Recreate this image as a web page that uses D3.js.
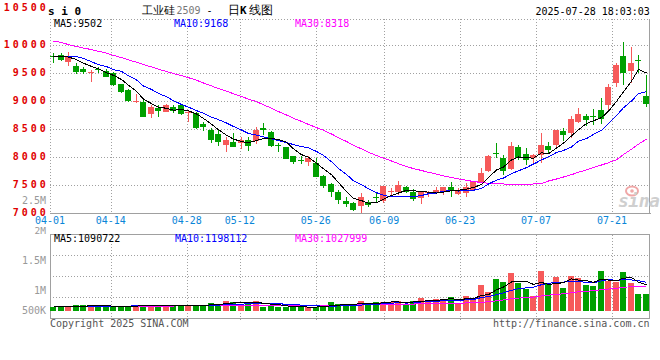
<!DOCTYPE html>
<html><head><meta charset="utf-8">
<script src="https://cdn.jsdelivr.net/npm/d3@7"></script>
<style>
html,body{margin:0;padding:0;background:#fff;}
svg{display:block;}
text{font-family:"DejaVu Sans Mono",monospace;}
</style></head><body>
<svg id="c" width="660" height="360"></svg>
<script>
const dates = ["04-01","04-02","04-03","04-07","04-08","04-09","04-10","04-11","04-14","04-15","04-16","04-17","04-18","04-21","04-22","04-23","04-24","04-25","04-28","04-29","04-30",
"05-06","05-07","05-08","05-09","05-12","05-13","05-14","05-15","05-16","05-19","05-20","05-21","05-22","05-23","05-26","05-27","05-28","05-29","05-30",
"06-03","06-04","06-05","06-06","06-09","06-10","06-11","06-12","06-13","06-16","06-17","06-18","06-19","06-20","06-23","06-24","06-25","06-26","06-27","06-30",
"07-01","07-02","07-03","07-04","07-07","07-08","07-09","07-10","07-11","07-14","07-15","07-16","07-17","07-18","07-21","07-22","07-23","07-24","07-25","07-28"];
const tickDates = ["04-01","04-14","04-28","05-12","05-26","06-09","06-23","07-07","07-21"];

const opens = [9800,9830,9700,9625,9570,9500,9565,9535,9505,9300,9195,8985,8990,8770,8870,8810,8895,8930,8785,8790,
8590,8480,8410,8215,8275,8255,8300,8290,8510,8450,8210,8175,8015,7950,7900,7900,7660,7515,7380,7215,
7185,7115,7195,7285,7205,7375,7370,7470,7370,7265,7365,7365,7365,7460,7340,7365,7425,7560,7750,8070,
7975,7780,8185,8055,7975,8035,8195,8215,8465,8435,8630,8735,8735,8840,8930,9330,9805,9545,9725,9095];
const highs = [9860,9865,9870,9675,9615,9555,9612,9565,9525,9310,9215,9120,9020,8930,8930,8940,8925,8935,8830,8810,
8630,8525,8480,8365,8435,8350,8365,8530,8600,8470,8255,8185,8020,8020,8020,7975,7680,7530,7410,7280,
7195,7350,7230,7350,7485,7455,7570,7490,7430,7380,7395,7470,7470,7550,7440,7530,7580,7800,8035,8255,
8035,8275,8215,8155,8055,8435,8275,8485,8525,8735,8875,8770,8850,9050,9305,9685,10060,9970,9820,9465];
const lows = [9680,9720,9625,9480,9485,9345,9505,9422,9270,9140,8975,8960,8710,8700,8720,8800,8790,8750,8630,8505,
8465,8245,8195,8085,8170,8140,8105,8230,8395,8170,8095,7958,7875,7875,7840,7635,7440,7280,7160,7100,
7040,7005,7115,7175,7175,7290,7320,7365,7220,7160,7280,7360,7320,7290,7320,7290,7410,7540,7740,7975,
7680,7765,7945,7860,7890,7890,8055,8175,8285,8335,8600,8555,8570,8590,8825,9255,9285,9330,9495,8895];
const closes = [9790,9745,9805,9512,9518,9510,9540,9435,9285,9150,9005,8995,8720,8900,8810,8930,8820,8770,8795,8530,
8530,8305,8275,8305,8185,8305,8200,8480,8470,8200,8200,7965,7900,7945,7975,7650,7490,7365,7245,7160,
7055,7280,7140,7280,7480,7385,7500,7380,7250,7370,7372,7410,7460,7380,7410,7470,7560,7720,8025,8060,
7740,8195,7980,7950,8035,8215,8115,8480,8395,8680,8770,8660,8730,8675,9255,9645,9505,9685,9720,8955];

const ma5 = [9800,9795,9785,9740,9674,9618,9577,9503,9458,9384,9283,9174,9031,8954,8886,8871,8836,8846,8825,8769,
8689,8586,8487,8389,8320,8275,8254,8295,8328,8331,8310,8263,8147,8042,7997,7887,7792,7685,7545,7382,
7263,7221,7176,7183,7247,7313,7357,7405,7399,7377,7374,7356,7372,7398,7406,7426,7456,7508,7637,7767,
7821,7948,8000,7985,7980,8075,8059,8159,8248,8377,8488,8597,8647,8703,8818,8993,9162,9353,9562,9502];
const ma10 = [9802,9798,9794,9790,9762,9700,9650,9615,9560,9529,9451,9376,9267,9206,9135,9077,9005,8939,8890,8828,
8780,8711,8667,8607,8545,8482,8420,8391,8359,8326,8293,8259,8221,8185,8164,8099,8028,7916,7794,7690,
7575,7507,7431,7364,7315,7288,7289,7291,7291,7312,7344,7357,7389,7399,7392,7400,7406,7440,7518,7587,
7624,7702,7754,7811,7874,7948,8004,8080,8117,8179,8282,8328,8403,8476,8598,8741,8880,9000,9133,9168];
const ma30 = [10070,10045,10007,9973,9946,9918,9888,9855,9814,9775,9734,9693,9650,9609,9568,9527,9491,9454,9416,9371,
9321,9270,9221,9175,9129,9080,9034,8989,8932,8871,8811,8750,8691,8636,8582,8525,8477,8411,8345,8277,
8209,8145,8082,8027,7977,7929,7880,7830,7793,7759,7727,7696,7664,7634,7607,7584,7562,7545,7530,7527,
7518,7513,7507,7511,7518,7525,7571,7607,7643,7684,7727,7771,7812,7857,7898,7952,8045,8140,8230,8318];

const volumes = [142000,142000,198000,240000,240000,198000,198000,142000,198000,198000,198000,240000,198000,198000,240000,198000,198000,240000,198000,240000,
240000,325000,282000,423000,367000,240000,367000,423000,142000,198000,142000,142000,198000,142000,142000,142000,240000,381000,282000,240000,
198000,423000,282000,381000,381000,367000,423000,240000,423000,549000,451000,493000,451000,591000,339000,634000,549000,1083000,802000,1336000,
1224000,1603000,1154000,901000,634000,1673000,1154000,1434000,971000,1477000,1392000,1083000,1041000,1673000,1266000,1224000,1645000,1182000,704000,704000];
const volMa5 = [180000,180000,185000,190000,192000,204000,215000,204000,195000,187000,187000,195000,206000,206000,215000,215000,206000,215000,215000,215000,
223000,249000,257000,302000,327000,327000,336000,364000,308000,274000,254000,209000,164000,164000,153000,153000,173000,209000,237000,257000,
268000,305000,285000,305000,333000,367000,367000,358000,367000,400000,417000,431000,473000,507000,465000,502000,513000,639000,681000,881000,
999000,1210000,1224000,1244000,1103000,1193000,1103000,1159000,1173000,1342000,1286000,1271000,1193000,1333000,1291000,1257000,1370000,1398000,1204000,1090722];
const volMa10 = [185000,185000,186000,188000,190000,192000,195000,195000,195000,190000,195000,205000,205000,201000,201000,201000,201000,211000,211000,215000,
219000,228000,236000,258000,271000,275000,292000,311000,305000,301000,291000,273000,264000,236000,214000,204000,191000,187000,201000,205000,
211000,239000,247000,271000,295000,318000,336000,322000,336000,367000,392000,399000,416000,437000,433000,459000,472000,556000,594000,673000,
750000,861000,932000,963000,992000,1096000,1156000,1192000,1208000,1223000,1239000,1187000,1176000,1253000,1316000,1272000,1321000,1295000,1269000,1198112];
const volMa30 = [175000,175000,176000,177000,178000,180000,181000,182000,183000,185000,186000,188000,190000,192000,194000,196000,198000,200000,202000,205000,
208000,211000,214000,217000,220000,223000,226000,229000,232000,235000,235000,235000,235000,232000,229000,227000,228000,236000,239000,240000,
240000,246000,249000,255000,260000,266000,273000,273000,281000,291000,298000,303000,309000,315000,314000,327000,333000,355000,377000,415000,
451000,500000,532000,557000,573000,624000,655000,690000,713000,754000,794000,816000,841000,884000,914000,942000,983000,1014000,1024000,1027999];

const priceTicks = [10500,10000,9500,9000,8500,8000,7500,7000];
const volTickValues = [500000,1000000,1500000,2000000,2500000];
const volTickLabels = ["500K","1M","1.5M","2M","2.5M"];

const svg = d3.select("#c");
const n = dates.length;
const L = 50, R = 649.5;
const RED = "#f65a5a", GREEN = "#00a000", GRID = "#a0a0a0";

const xb = d3.scaleBand().domain(d3.range(n)).range([50, 650]);
const xt = d3.scalePoint().domain(dates).range([50, 650]);
const y = d3.scaleLinear().domain([7000, 10000]).range([213, 45]);
const yv = d3.scaleLinear().domain([0, 3220000]).range([310.7, 234.3]);
const yvLabel = d3.scaleLinear().domain(volTickValues).range([313.6, 293.9, 264.1, 234.3, 204.4]);
const mainTop = 19, mainBot = 213.5, volTop = 234.5, volBot = 318.5;

const left = i => Math.round(xb(i));
const cxp = i => left(i) + 3;

const g = svg.append("g");
g.selectAll(".hg").data(priceTicks.filter(v => v > 7000 && y(v) > mainTop)).enter().append("line")
  .attr("x1", L).attr("x2", R).attr("y1", d => Math.round(y(d)) + 0.5).attr("y2", d => Math.round(y(d)) + 0.5)
  .attr("stroke", GRID).attr("stroke-dasharray", "1,2").attr("shape-rendering", "crispEdges");
const tickX = d => Math.round(xt(d)) + 0.5;
g.selectAll(".vg").data(tickDates.slice(1)).enter().append("line")
  .attr("x1", tickX).attr("x2", tickX).attr("y1", mainTop).attr("y2", mainBot)
  .attr("stroke", GRID).attr("stroke-dasharray", "1,2").attr("shape-rendering", "crispEdges");
g.append("line").attr("x1", L).attr("x2", R).attr("y1", mainTop + 0.5).attr("y2", mainTop + 0.5)
  .attr("stroke", GRID).attr("stroke-dasharray", "1,2").attr("shape-rendering", "crispEdges");
g.append("line").attr("x1", L + 0.5).attr("x2", L + 0.5).attr("y1", mainTop).attr("y2", mainBot)
  .attr("stroke", GRID).attr("stroke-dasharray", "1,2").attr("shape-rendering", "crispEdges");
g.append("line").attr("x1", L).attr("x2", R + 1).attr("y1", mainBot).attr("y2", mainBot)
  .attr("stroke", GRID).attr("stroke-width", 1).attr("shape-rendering", "crispEdges");
g.append("line").attr("x1", R).attr("x2", R).attr("y1", mainTop).attr("y2", mainBot)
  .attr("stroke", GRID).attr("stroke-width", 1).attr("shape-rendering", "crispEdges");

const volRows = d3.range(1, 4).map(k => volTop + (volBot - volTop) * k / 4);
g.selectAll(".vhg").data(volRows).enter().append("line")
  .attr("x1", L).attr("x2", R).attr("y1", d => Math.round(d) - 0.5).attr("y2", d => Math.round(d) - 0.5)
  .attr("stroke", GRID).attr("stroke-dasharray", "1,2").attr("shape-rendering", "crispEdges");
g.selectAll(".vvg").data(tickDates.slice(1)).enter().append("line")
  .attr("x1", tickX).attr("x2", tickX).attr("y1", volTop).attr("y2", volBot + 2)
  .attr("stroke", GRID).attr("stroke-dasharray", "1,2").attr("shape-rendering", "crispEdges");
g.append("rect").attr("x", L + 0.5).attr("y", volTop).attr("width", R - L - 0.5).attr("height", volBot - volTop)
  .attr("fill", "none").attr("stroke", GRID).attr("shape-rendering", "crispEdges");

// watermark
const wm = svg.append("g");
wm.append("ellipse").attr("cx", 632).attr("cy", 191).attr("rx", 6).attr("ry", 4.5).attr("fill", "none").attr("stroke", "#f0a8a8").attr("stroke-width", 2);
wm.append("circle").attr("cx", 632).attr("cy", 191).attr("r", 1.8).attr("fill", "#f0a8a8");
wm.append("text").attr("x", 618).attr("y", 207).attr("font-family", "DejaVu Sans").attr("font-style", "italic")
  .attr("font-weight", "bold").attr("font-size", 18).attr("letter-spacing", -0.5).attr("fill", "#cfcfcf").text("sina");

const idx = d3.range(n);
const col = i => closes[i] >= opens[i] ? RED : GREEN;
const cg = svg.append("g").attr("shape-rendering", "crispEdges");
cg.selectAll(".wick").data(idx).enter().append("rect")
  .attr("x", cxp).attr("width", 1)
  .attr("y", i => Math.round(y(highs[i])))
  .attr("height", i => Math.max(1, Math.round(y(lows[i])) - Math.round(y(highs[i]))))
  .attr("fill", col);
cg.selectAll(".body").data(idx).enter().append("rect")
  .attr("x", left).attr("width", 6)
  .attr("y", i => Math.round(Math.min(y(opens[i]), y(closes[i]))))
  .attr("height", i => Math.max(1, Math.round(Math.abs(y(opens[i]) - y(closes[i])))))
  .attr("fill", col);

const lineP = d3.line().x(i => cxp(i) + 0.5);
function maLine(arr, color, yy) {
  svg.append("path").datum(idx)
    .attr("d", lineP.y(i => yy(arr[i]))(idx))
    .attr("fill", "none").attr("stroke", color).attr("stroke-width", 1).attr("shape-rendering", "crispEdges");
}
maLine(ma30, "#ff00ff", y);
maLine(ma10, "#0000ff", y);
maLine(ma5, "#000000", y);

const vg = svg.append("g").attr("shape-rendering", "crispEdges");
vg.selectAll(".vb").data(idx).enter().append("rect")
  .attr("x", left).attr("width", 6)
  .attr("y", i => Math.round(yv(volumes[i])))
  .attr("height", i => Math.round(yv(0)) - Math.round(yv(volumes[i])))
  .attr("fill", col);
maLine(volMa30, "#ff00ff", yv);
maLine(volMa10, "#0000ff", yv);
maLine(volMa5, "#000000", yv);

const txt = (x, yy, s, o = {}) => {
  const t = svg.append("text").attr("x", x).attr("y", yy).attr("font-size", o.size || 10)
    .attr("fill", o.fill || "#000").text(s);
  if (o.anchor) t.attr("text-anchor", o.anchor);
  if (o.weight) t.attr("font-weight", o.weight);
  if (o.ls) t.attr("letter-spacing", o.ls);
  if (o.family) t.attr("font-family", o.family);
  return t;
};
const topVisible = y.invert(mainTop);
priceTicks.forEach(v => {
  const cy = v > topVisible ? 7.5 : y(v) - 1;
  txt(48.8, cy + 3.7, String(v), {anchor: "end", fill: "#e00000", weight: "bold", ls: 3});
});
volTickValues.forEach((v, k) => {
  txt(46, yvLabel(v), volTickLabels[k], {anchor: "end", fill: "#999", size: k === 3 ? 9.5 : 10});
});
tickDates.forEach(d => {
  txt(xt(d), 224, d, {anchor: "middle", fill: "#0a86d8"});
});

txt(54, 27, "MA5:" + ma5[n - 1]);
txt(174, 27, "MA10:" + ma10[n - 1], {fill: "#0000ff"});
txt(295, 27, "MA30:" + ma30[n - 1], {fill: "#ff00ff"});
txt(54, 242, "MA5:" + volMa5[n - 1], {});
txt(175, 242, "MA10:" + volMa10[n - 1], {fill: "#0000ff"});
txt(295, 242, "MA30:" + volMa30[n - 1], {fill: "#ff00ff"});

txt(48, 15, "s i 0", {weight: "bold", size: 11});
txt(141.5, 13.5, "工业硅", {family: "Noto Sans CJK SC", size: 11});
txt(176.5, 13.5, "2509", {fill: "#777"});
txt(206.5, 13.5, "-", {size: 10});
txt(227.5, 13.5, "日", {family: "Noto Sans CJK SC", size: 11.5});
txt(240, 13.5, "K", {family: "DejaVu Sans", weight: "bold", size: 11});
txt(249, 13.5, "线图", {family: "Noto Sans CJK SC", size: 11.5});
txt(535.5, 15, "2025-07-28 18:03:03");

txt(50, 326.5, "Copyright 2025 SINA.COM", {fill: "#555"});
txt(649.5, 326.5, "http://finance.sina.com.cn", {anchor: "end", fill: "#555"});
</script>
</body></html>
